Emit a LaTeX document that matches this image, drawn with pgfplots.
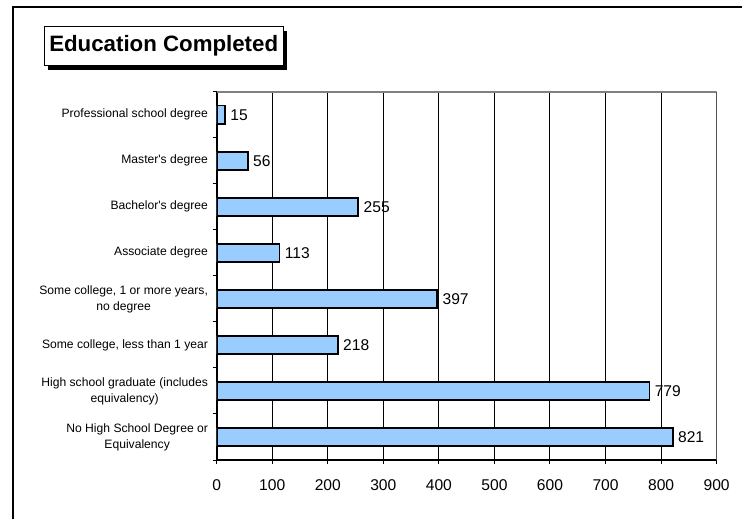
\documentclass[border=0pt]{standalone}
\usepackage{pgfplots}
\pgfplotsset{compat=1.18}
\usepackage{fontspec}
\setmainfont{Liberation Sans}
\definecolor{barblue}{HTML}{99CCFF}
\definecolor{framegray}{HTML}{808080}
\begin{document}
\begin{tikzpicture}
\begin{scope}[x=0.75pt,y=-0.75pt]
\path[use as bounding box] (0,0) rectangle (742,518);
\draw[line width=1pt] (13,522) -- (13,7) -- (746,7);
\fill[black] (48.3,30.7) rectangle (287,69.7);
\draw[fill=white,line width=0.75pt] (44.3,26.7) rectangle (283,65.7);
\node[font=\bfseries\fontsize{16.7}{20}\selectfont, inner sep=0pt] at (163.7,46.2) {Education Completed};
\end{scope}
\begin{axis}[
  at={(162.5pt,-345pt)}, anchor=south west,
  scale only axis, width=375pt, height=276.2pt,
  xbar, bar width=0.4,
  xmin=0, xmax=900, ymin=-0.5, ymax=7.5,
  xtick={0,100,...,900},
  ytick={-0.5,0.5,...,7.5}, yticklabels={},
  extra y ticks={0,1,2,3,4,5,6,7},
  extra y tick labels={{No High School Degree or\\Equivalency},{High school graduate (includes\\equivalency)},{Some college, less than 1 year},{Some college, 1 or more years,\\no degree},{Associate degree},{Bachelor\textquotesingle s degree},{Master\textquotesingle s degree},{Professional school degree}},
  extra y tick style={tick style={draw=none}},
  yticklabel style={align=center, font=\fontsize{9.1}{12}\selectfont},
  xticklabel style={font=\fontsize{11.7}{14}\selectfont, yshift=-8pt},
  /pgf/number format/assume math mode=true,
  axis lines*=left,
  axis line style={line width=1.5pt, black},
  xmajorgrids, grid style={black, line width=0.75pt},
  tick align=outside, major tick length=3pt,
  tick style={black, line width=0.75pt},
  nodes near coords, point meta=x,
  nodes near coords style={font=\fontsize{11.7}{14}\selectfont, anchor=west, black},
]
\addplot[fill=barblue, draw=black, line width=1.4pt] coordinates {(821,0) (779,1) (218,2) (397,3) (113,4) (255,5) (56,6) (15,7)};
\draw[framegray, line width=1.5pt] (rel axis cs:0,1) -- (rel axis cs:1,1) -- (rel axis cs:1,0);
\end{axis}
\end{tikzpicture}
\end{document}
